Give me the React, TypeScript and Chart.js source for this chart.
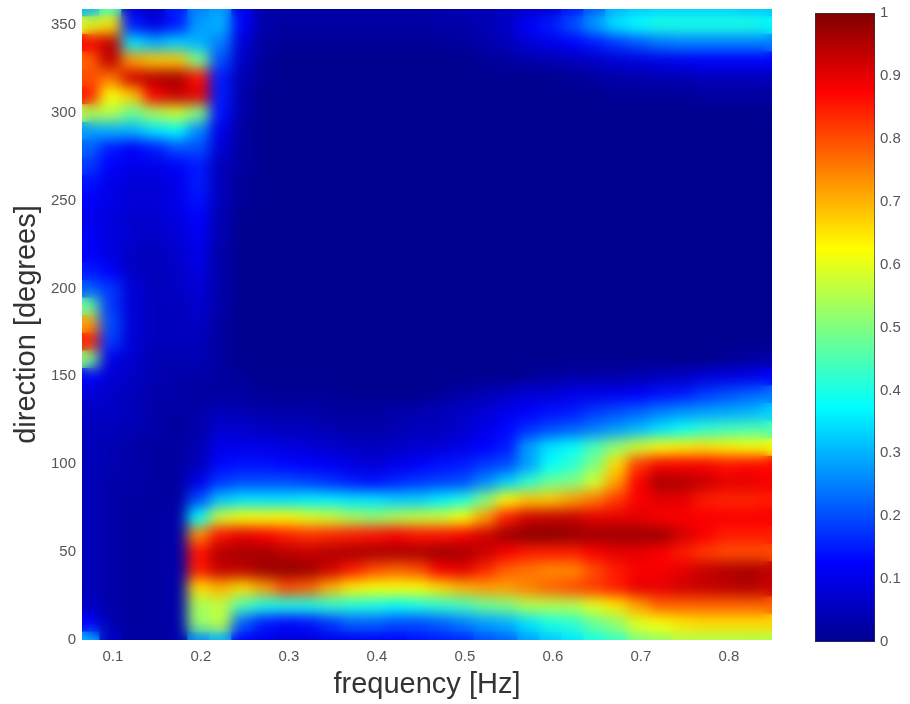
import React, { useEffect, useRef } from "react";
import { Chart, registerables } from "chart.js";

Chart.register(...registerables);

const frequencies = [
  0.0725, 0.0975, 0.1225, 0.1475, 0.1725, 0.1975, 0.2225, 0.2475, 0.2725, 0.2975, 0.3225,
  0.3475, 0.3725, 0.3975, 0.4225, 0.4475, 0.4725, 0.4975, 0.5225, 0.5475, 0.5725, 0.5975,
  0.6225, 0.6475, 0.6725, 0.6975, 0.7225, 0.7475, 0.7725, 0.7975, 0.8225, 0.8475,
];
const directions = [
  360, 350, 340, 330, 320, 310, 300, 290, 280, 270, 260, 250, 240, 230, 220, 210, 200, 190, 180,
  170, 160, 150, 140, 130, 120, 110, 100, 90, 80, 70, 60, 50, 40, 30, 20, 10, 0,
];
// energy in percent: one line per direction, one value per frequency
const energy = [
  [30,45,8,5,15,25,28,10,3,3,3,3,3,3,3,3,3,4,4,5,6,8,15,22,30,32,33,33,33,33,32,32],
  [60,65,15,10,15,28,30,12,3,2,2,2,2,2,2,2,3,3,4,6,12,15,20,28,35,38,40,40,40,40,40,38],
  [88,94,35,30,33,30,25,8,2,1,1,1,1,1,1,1,1,2,3,5,8,10,12,15,18,21,24,25,25,25,25,25],
  [78,94,72,68,68,50,20,6,1,0,0,0,0,0,0,0,0,0,1,2,3,4,5,6,8,9,10,11,12,12,12,12],
  [80,76,92,95,96,86,15,4,1,0,0,0,0,0,0,0,0,0,0,0,0,0,1,2,3,3,4,4,5,5,5,5],
  [85,62,68,88,93,90,15,3,0,0,0,0,0,0,0,0,0,0,0,0,0,0,0,0,1,1,1,1,2,2,2,2],
  [55,55,48,54,58,50,14,3,0,0,0,0,0,0,0,0,0,0,0,0,0,0,0,0,0,0,0,0,0,0,0,0],
  [28,30,30,35,37,26,10,2,0,0,0,0,0,0,0,0,0,0,0,0,0,0,0,0,0,0,0,0,0,0,0,0],
  [22,15,12,15,20,20,8,2,0,0,0,0,0,0,0,0,0,0,0,0,0,0,0,0,0,0,0,0,0,0,0,0],
  [18,12,10,10,12,15,5,2,0,0,0,0,0,0,0,0,0,0,0,0,0,0,0,0,0,0,0,0,0,0,0,0],
  [14,10,8,8,10,15,5,1,0,0,0,0,0,0,0,0,0,0,0,0,0,0,0,0,0,0,0,0,0,0,0,0],
  [12,10,8,8,10,14,5,1,0,0,0,0,0,0,0,0,0,0,0,0,0,0,0,0,0,0,0,0,0,0,0,0],
  [10,9,7,7,9,12,4,0,0,0,0,0,0,0,0,0,0,0,0,0,0,0,0,0,0,0,0,0,0,0,0,0],
  [12,9,7,6,8,11,4,0,0,0,0,0,0,0,0,0,0,0,0,0,0,0,0,0,0,0,0,0,0,0,0,0],
  [12,9,6,5,7,10,3,0,0,0,0,0,0,0,0,0,0,0,0,0,0,0,0,0,0,0,0,0,0,0,0,0],
  [15,12,6,5,6,9,3,0,0,0,0,0,0,0,0,0,0,0,0,0,0,0,0,0,0,0,0,0,0,0,0,0],
  [22,18,8,5,6,8,3,0,0,0,0,0,0,0,0,0,0,0,0,0,0,0,0,0,0,0,0,0,0,0,0,0],
  [48,18,8,5,5,7,3,0,0,0,0,0,0,0,0,0,0,0,0,0,0,0,0,0,0,0,0,0,0,0,0,0],
  [72,20,8,5,5,6,2,0,0,0,0,0,0,0,0,0,0,0,0,0,0,0,0,0,0,0,0,0,0,0,0,0],
  [85,18,8,5,5,5,2,0,0,0,0,0,0,0,0,0,0,0,0,0,0,0,0,0,0,0,0,0,0,0,0,0],
  [50,10,7,4,4,4,2,0,0,0,0,0,0,0,0,0,0,0,0,0,0,0,0,0,0,0,0,0,0,1,2,3],
  [12,8,6,4,3,3,2,1,0,0,0,0,0,0,0,0,0,0,0,0,1,2,3,3,3,4,5,6,8,9,10,12],
  [8,6,5,3,3,2,2,2,1,1,1,1,0,0,0,0,1,3,4,6,8,8,10,10,11,12,14,15,18,20,22,24],
  [6,6,5,3,2,3,5,4,3,3,3,2,2,2,3,4,5,6,8,10,12,14,15,18,20,22,25,27,28,29,30,33],
  [5,5,4,3,2,3,7,7,6,5,5,4,3,3,4,5,5,7,10,13,17,20,22,25,28,31,35,39,42,44,45,45],
  [5,4,3,2,2,4,10,10,10,9,8,7,6,5,6,7,8,10,12,15,28,35,38,45,52,58,62,64,65,64,62,62],
  [5,4,3,2,2,5,13,14,14,13,12,11,9,8,10,12,14,15,18,20,28,38,42,50,66,82,88,88,88,86,87,87],
  [5,3,3,2,2,10,18,20,20,20,19,17,15,14,16,18,19,20,26,33,42,48,50,58,72,88,96,95,93,90,90,88],
  [5,3,2,2,2,20,32,35,35,35,36,36,35,35,33,33,36,40,50,63,68,68,72,76,82,88,90,90,85,84,84,85],
  [5,3,2,2,3,38,58,62,62,63,60,58,54,52,55,57,58,62,72,85,92,93,93,90,90,90,88,88,88,88,88,88],
  [5,3,2,2,3,74,86,90,88,85,83,84,85,86,88,86,86,88,92,97,99,99,98,97,97,97,97,92,88,85,85,85],
  [5,3,2,2,3,86,95,96,96,94,93,95,96,96,96,96,97,96,93,88,85,85,85,88,90,90,88,85,82,80,80,80],
  [5,3,2,2,3,85,93,94,97,98,97,92,85,80,78,80,88,90,84,78,76,74,74,80,85,88,88,90,93,95,96,94],
  [5,3,2,2,3,66,70,66,72,80,78,70,64,62,62,62,66,70,72,72,75,78,80,82,85,90,90,92,93,94,95,93],
  [6,3,2,2,3,54,56,45,40,40,40,42,41,40,38,40,42,44,48,50,55,55,55,60,65,72,78,78,78,78,78,78],
  [12,4,2,2,3,52,56,22,15,13,14,18,22,22,20,20,22,25,28,30,35,40,42,48,52,60,62,65,66,66,66,66],
  [30,6,2,2,3,26,30,12,10,8,8,10,11,12,12,14,15,16,20,22,28,32,35,40,43,50,52,55,55,55,55,55],
];
const xTickValues = [0.1, 0.2, 0.3, 0.4, 0.5, 0.6, 0.7, 0.8];
const yTickValues = [0, 50, 100, 150, 200, 250, 300, 350];
const colorTickValues = [0, 0.1, 0.2, 0.3, 0.4, 0.5, 0.6, 0.7, 0.8, 0.9, 1];
const jetStops = [0, 0.125, 0.375, 0.625, 0.875, 1];
const jetColors = [
  [0, 0, 143],
  [0, 0, 255],
  [0, 255, 255],
  [255, 255, 0],
  [255, 0, 0],
  [128, 0, 0],
];

function jet(v: number): string {
  for (let i = 1; i < jetStops.length; i++) {
    if (v <= jetStops[i]) {
      const t = (v - jetStops[i - 1]) / (jetStops[i] - jetStops[i - 1]);
      const a = jetColors[i - 1];
      const b = jetColors[i];
      return `rgb(${a.map((c, k) => Math.round(c + (b[k] - c) * t)).join(",")})`;
    }
  }
  return "rgb(128,0,0)";
}

const FONT = "'Liberation Sans', Arial, sans-serif";
const TICK_COLOR = "#555";
const TITLE_COLOR = "#333";

const smoothCells = {
  id: "smoothCells",
  afterDatasetsDraw(chart: any) {
    const { ctx, canvas, chartArea: a } = chart;
    ctx.save();
    ctx.beginPath();
    ctx.rect(a.left, a.top, a.width, a.height);
    ctx.clip();
    ctx.filter = "blur(7px)";
    ctx.drawImage(canvas, a.left, a.top, a.width, a.height, a.left, a.top, a.width, a.height);
    ctx.restore();
  },
};

export default function App() {
  const mainRef = useRef<HTMLCanvasElement>(null);
  const barRef = useRef<HTMLCanvasElement>(null);

  useEffect(() => {
    const main = new Chart(mainRef.current!, {
      type: "bar",
      data: {
        datasets: directions.map((d, r) => ({
          data: frequencies.map((f) => ({ x: f, y: [d - 5, d + 5] })),
          backgroundColor: energy[r].map((v) => jet(v / 100)),
          borderWidth: 0,
          grouped: false,
          barPercentage: 1,
          categoryPercentage: 1,
        })),
      } as any,
      options: {
        responsive: false,
        animation: false,
        layout: { autoPadding: false, padding: { left: 0, top: 9, right: 138, bottom: 0 } },
        plugins: { legend: { display: false }, tooltip: { enabled: false } },
        scales: {
          x: {
            type: "linear",
            offset: false,
            min: 0.065,
            max: 0.849,
            afterBuildTicks: (s: any) => {
              s.ticks = xTickValues.map((value) => ({ value }));
            },
            afterFit: (s: any) => {
              s.height = 64;
            },
            grid: { display: false, drawTicks: false },
            border: { display: false },
            ticks: {
              maxRotation: 0,
              padding: 8,
              color: TICK_COLOR,
              font: { family: FONT, size: 15 },
              callback: (v: any) => Number(v).toFixed(1),
            },
            title: {
              display: true,
              text: "frequency [Hz]",
              color: TITLE_COLOR,
              font: { family: FONT, size: 29 },
              padding: { top: 0, bottom: 2 },
            },
          },
          y: {
            type: "linear",
            min: 0,
            max: 359,
            afterBuildTicks: (s: any) => {
              s.ticks = yTickValues.map((value) => ({ value }));
            },
            afterFit: (s: any) => {
              s.width = 82;
              s.paddingTop = 0;
              s.paddingBottom = 0;
            },
            grid: { display: false, drawTicks: false },
            border: { display: false },
            ticks: {
              padding: 6,
              color: TICK_COLOR,
              font: { family: FONT, size: 15 },
            },
            title: {
              display: true,
              text: "direction [degrees]",
              color: TITLE_COLOR,
              font: { family: FONT, size: 29 },
              padding: { top: 10, bottom: 0 },
            },
          },
        },
      } as any,
      plugins: [smoothCells],
    });

    const bar = new Chart(barRef.current!, {
      type: "bar",
      data: {
        labels: [""],
        datasets: [
          {
            data: [[0, 1]],
            borderWidth: 1,
            borderColor: "#334",
            borderSkipped: false,
            barPercentage: 1,
            categoryPercentage: 1,
            backgroundColor: (c: any) => {
              const area = c.chart.chartArea;
              if (!area) return "#000";
              const g = c.chart.ctx.createLinearGradient(0, area.bottom, 0, area.top);
              jetStops.forEach((s, i) => g.addColorStop(s, `rgb(${jetColors[i].join(",")})`));
              return g;
            },
          },
        ],
      } as any,
      options: {
        responsive: false,
        animation: false,
        layout: { autoPadding: false, padding: { left: 25, top: 13, right: 0, bottom: 62 } },
        plugins: { legend: { display: false }, tooltip: { enabled: false } },
        scales: {
          x: { display: false },
          y: {
            type: "linear",
            position: "right",
            min: 0,
            max: 1,
            afterBuildTicks: (s: any) => {
              s.ticks = colorTickValues.map((value) => ({ value }));
            },
            afterFit: (s: any) => {
              s.width = 35;
              s.paddingTop = 0;
              s.paddingBottom = 0;
            },
            grid: { display: false, drawTicks: false },
            border: { display: false },
            ticks: {
              padding: 5,
              color: TICK_COLOR,
              font: { family: FONT, size: 15 },
              callback: (v: any) => String(v),
            },
          },
        },
      } as any,
    });

    return () => {
      main.destroy();
      bar.destroy();
    };
  }, []);

  const canvasStyle: React.CSSProperties = {
    position: "absolute",
    top: 0,
    display: "block",
    filter: "blur(0.6px)",
  };

  return (
    <div style={{ position: "fixed", left: 0, top: 0, width: 910, height: 704, background: "#fff", overflow: "hidden" }}>
      <canvas ref={mainRef} width={910} height={704} style={{ ...canvasStyle, left: 0 }} />
      <canvas ref={barRef} width={120} height={704} style={{ ...canvasStyle, left: 790 }} />
    </div>
  );
}
